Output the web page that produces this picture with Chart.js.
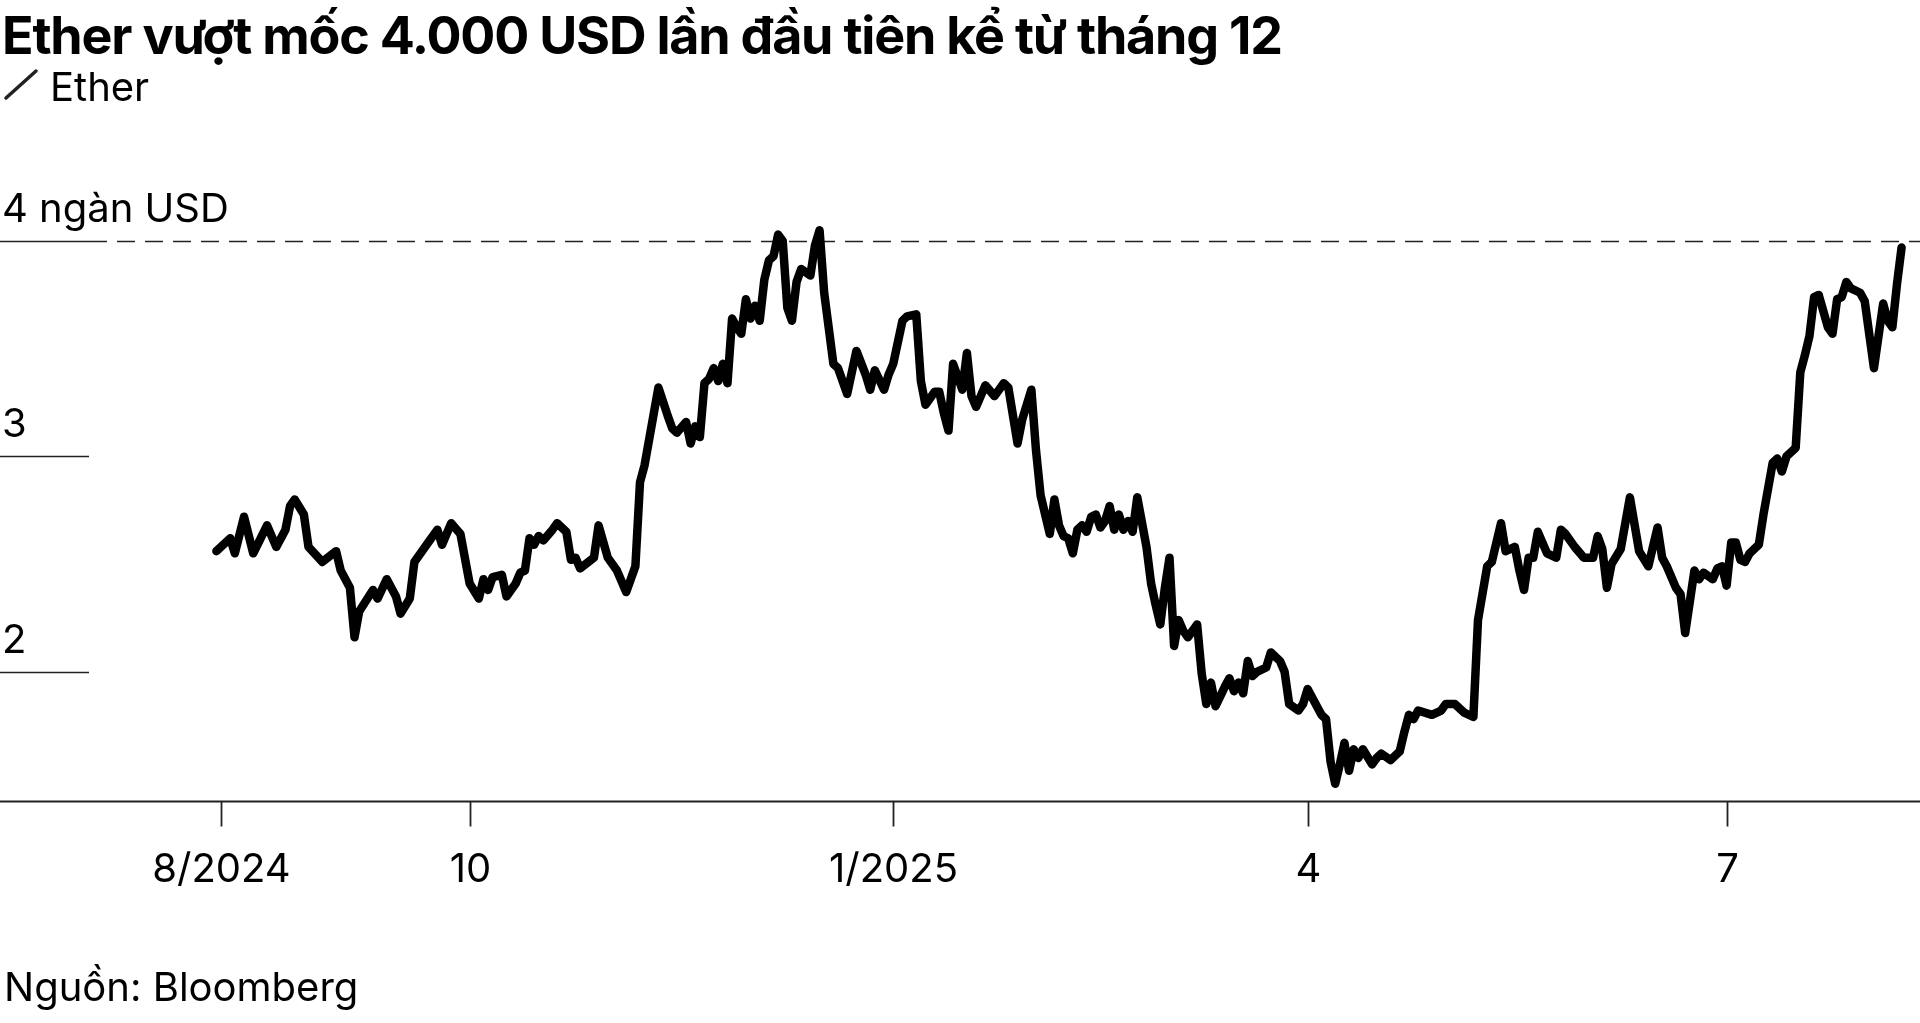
<!DOCTYPE html>
<html>
<head>
<meta charset="utf-8">
<script src="https://cdn.jsdelivr.net/npm/chart.js@4/dist/chart.umd.min.js"></script>
<style>
  html, body { margin: 0; padding: 0; background: #fff; }
  body { width: 1920px; height: 1023px; position: relative; overflow: hidden; font-family: Inter, "Noto Sans", sans-serif; color: #000; }
  #wrap { position: absolute; left: 0; top: 0; width: 1920px; height: 1023px; }
  .txt { position: absolute; white-space: nowrap; }
  #title { left: 2px; top: 4px; font-size: 52px; font-weight: 700; letter-spacing: -1.2px; }
  #legend { left: 50px; top: 62px; font-size: 40px; }
  #source { left: 4px; top: 962px; font-size: 40px; }
</style>
</head>
<body>
<div id="wrap"><canvas id="chart"></canvas></div>
<div class="txt" id="title">Ether vượt mốc 4.000 USD lần đầu tiên kể từ tháng 12</div>
<div class="txt" id="legend">Ether</div>
<div class="txt" id="source">Nguồn: Bloomberg</div>
<script>
// ngày tính từ 1/1/2025 (âm = năm 2024), giá Ether theo nghìn USD
const days = [
  -147,-144,-143,-141,-139,-136,-134,-132,-131,-130,-128,-127,-124,-121,-120,-118,-117,-116,-113,-112,
  -110,-108,-107,-105,-104,-102,-101,-99,-98,-96,-94,-92,-90,-89,-88,-87,-85,-84,-82,-81,
  -80,-79,-78,-77,-76,-74,-73,-71,-70,-69,-68,-65,-64,-62,-60,-58,-56,-55,-54,-52,
  -51,-49,-48,-47,-45,-44,-43,-42,-41,-40,-39,-38,-37,-36,-35,-34,-33,-32,-31,-30,
  -29,-28,-27,-26,-25,-24,-23,-22,-21,-20,-18,-17,-16,-15,-13,-12,-10,-8,-6,-5,
  -4,-2,-1,0,2,3,5,6,7,9,10,11,12,13,15,16,17,18,20,22,
  24,25,27,28,30,31,32,34,35,36,37,38,39,40,41,42,43,44,45,46,
  47,48,49,50,51,52,53,55,56,57,58,59,60,61,62,63,64,66,67,68,
  69,70,72,73,74,75,76,77,78,79,81,82,84,85,86,88,89,90,92,93,
  94,95,96,97,98,99,100,101,102,104,105,106,108,110,111,112,113,114,117,119,
  120,122,124,126,127,129,130,132,133,135,136,137,138,139,140,142,144,145,146,148,
  150,152,153,154,155,156,158,160,162,164,166,167,168,170,171,172,174,175,176,178,
  179,180,181,182,183,184,185,186,188,189,191,192,193,194,196,197,198,199,200,201,
  203,204,205,206,207,208,210,211,213,215,216,217,218,219
];
const etherPrice = [
  2.56,2.62,2.55,2.72,2.55,2.68,2.58,2.66,2.77,2.80,2.73,2.58,2.51,2.56,2.47,2.39,2.16,2.28,2.38,2.34,
  2.43,2.35,2.27,2.34,2.51,2.57,2.60,2.66,2.59,2.69,2.64,2.41,2.34,2.43,2.38,2.44,2.45,2.35,2.41,2.46,
  2.47,2.62,2.59,2.63,2.61,2.66,2.69,2.65,2.52,2.53,2.48,2.53,2.68,2.53,2.47,2.37,2.49,2.88,2.96,3.20,
  3.32,3.19,3.13,3.11,3.16,3.06,3.14,3.09,3.34,3.36,3.41,3.35,3.43,3.34,3.64,3.60,3.57,3.73,3.64,3.70,
  3.63,3.82,3.91,3.93,4.03,4.00,3.69,3.63,3.81,3.87,3.84,3.98,4.05,3.76,3.43,3.41,3.29,3.49,3.38,3.31,
  3.40,3.31,3.38,3.43,3.63,3.65,3.66,3.35,3.24,3.30,3.30,3.20,3.12,3.43,3.31,3.48,3.28,3.23,3.33,3.28,
  3.34,3.32,3.06,3.17,3.31,3.03,2.82,2.64,2.80,2.68,2.63,2.62,2.55,2.66,2.68,2.65,2.72,2.73,2.67,2.70,
  2.77,2.66,2.73,2.66,2.70,2.65,2.81,2.58,2.41,2.31,2.22,2.39,2.53,2.12,2.24,2.19,2.16,2.22,1.99,1.85,
  1.95,1.84,1.93,1.97,1.91,1.95,1.90,2.05,1.98,2.00,2.02,2.09,2.05,2.00,1.85,1.82,1.85,1.92,1.84,1.80,
  1.78,1.58,1.48,1.57,1.67,1.54,1.64,1.60,1.64,1.57,1.60,1.62,1.59,1.63,1.72,1.80,1.78,1.82,1.80,1.82,
  1.85,1.85,1.81,1.79,2.24,2.49,2.51,2.69,2.56,2.58,2.47,2.38,2.53,2.53,2.65,2.55,2.53,2.66,2.64,2.58,
  2.53,2.53,2.63,2.57,2.39,2.50,2.57,2.81,2.56,2.49,2.67,2.53,2.49,2.39,2.36,2.18,2.47,2.43,2.46,2.43,
  2.48,2.49,2.40,2.60,2.60,2.52,2.51,2.55,2.59,2.73,2.97,2.99,2.93,3.00,3.04,3.39,3.47,3.56,3.74,3.75,
  3.60,3.57,3.73,3.74,3.81,3.78,3.76,3.72,3.41,3.71,3.63,3.60,3.80,3.97
];
const xTickDays = [-146, -92, 0, 90, 181];
const xTickLabels = ['8/2024', '10', '1/2025', '4', '7'];
const yTickValues = [2, 3, 4];
const yTickLabels = ['2', '3', '4 ngàn USD'];

const FONT = 'Inter, "Noto Sans", sans-serif';

// Vẽ trục, lưới ngắn bên trái, đường đứt 4 ngàn và biểu tượng chú thích
const axesPlugin = {
  id: 'axesPlugin',
  beforeDatasetsDraw(chart) {
    const { ctx, chartArea, scales: { x, y } } = chart;
    ctx.save();
    ctx.strokeStyle = '#222';
    ctx.lineWidth = 1.6;
    yTickValues.forEach((v, i) => {
      const py = Math.round(y.getPixelForValue(v)) + 0.5;
      ctx.setLineDash([]);
      ctx.beginPath(); ctx.moveTo(0, py); ctx.lineTo(89, py); ctx.stroke();
      if (v === 4) {
        ctx.setLineDash([18, 10]);
        ctx.beginPath(); ctx.moveTo(89, py); ctx.lineTo(chartArea.right, py); ctx.stroke();
        ctx.setLineDash([]);
      }
      ctx.fillStyle = '#000';
      ctx.font = '40px ' + FONT;
      ctx.textAlign = 'left';
      ctx.textBaseline = 'alphabetic';
      ctx.fillText(yTickLabels[i], 2, py - 20);
    });
    // trục hoành
    const ay = Math.round(chartArea.bottom) + 0.5;
    ctx.lineWidth = 1.8;
    ctx.beginPath(); ctx.moveTo(0, ay); ctx.lineTo(chartArea.right, ay); ctx.stroke();
    ctx.font = '40px ' + FONT;
    ctx.textAlign = 'center';
    ctx.textBaseline = 'middle';
    xTickDays.forEach((d, i) => {
      const px = Math.round(x.getPixelForValue(d)) + 0.5;
      ctx.beginPath(); ctx.moveTo(px, ay); ctx.lineTo(px, ay + 25); ctx.stroke();
      ctx.fillText(xTickLabels[i], px, ay + 68);
    });
    // biểu tượng chú thích
    ctx.lineWidth = 3.5;
    ctx.lineCap = 'round';
    ctx.beginPath(); ctx.moveTo(6, 98); ctx.lineTo(36, 71); ctx.stroke();
    ctx.restore();
  }
};

new Chart(document.getElementById('chart'), {
  type: 'line',
  data: {
    datasets: [{
      label: 'Ether',
      data: days.map((d, i) => ({ x: d, y: etherPrice[i] })),
      borderColor: '#000',
      borderWidth: 8.5,
      borderJoinStyle: 'round',
      borderCapStyle: 'round',
      pointRadius: 0,
      tension: 0
    }]
  },
  options: {
    responsive: true,
    maintainAspectRatio: false,
    animation: false,
    layout: { padding: { top: 198, bottom: 222, left: 0, right: 0 } },
    plugins: { legend: { display: false }, tooltip: { enabled: false } },
    scales: {
      x: { type: 'linear', min: -194, max: 223, display: false },
      y: { min: 1.4, max: 4.2, display: false }
    }
  },
  plugins: [axesPlugin]
});
</script>
</body>
</html>
